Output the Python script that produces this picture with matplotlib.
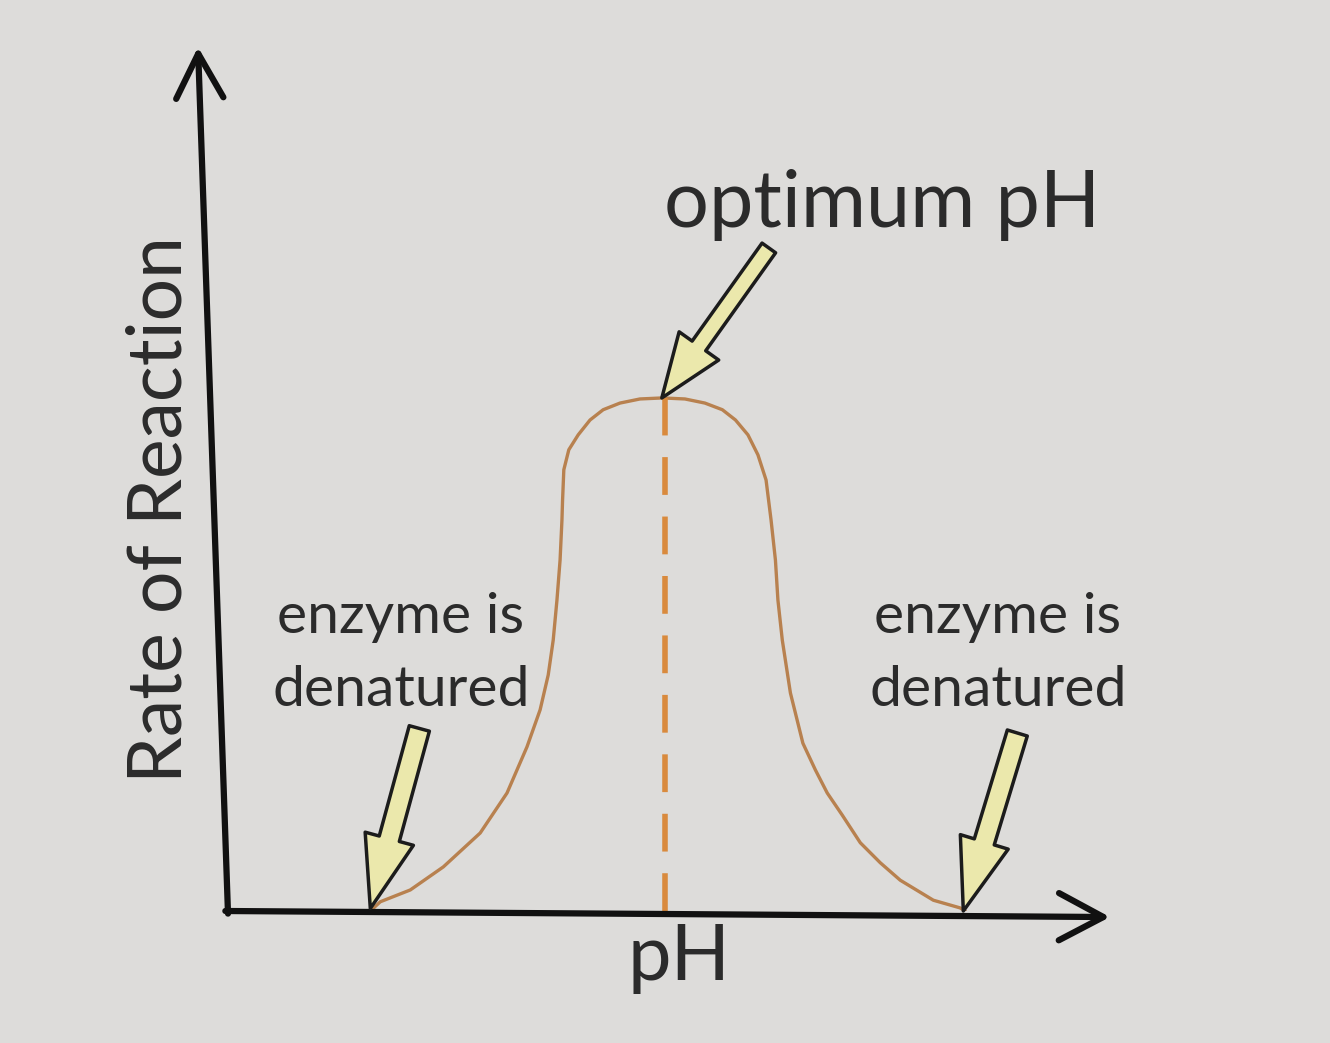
import matplotlib
matplotlib.use("Agg")
import matplotlib.pyplot as plt

# curve (pH vs relative rate, peak = 1)
ph = [2.28, 2.44, 2.92, 3.45, 4.04, 4.47, 4.79, 5.00, 5.13, 5.21, 5.27, 5.32,
      5.35, 5.36, 5.38, 5.46, 5.61, 5.80, 6.01, 6.28, 6.60, 6.96, 7.32, 7.64,
      7.92, 8.13, 8.33, 8.49, 8.62, 8.70, 8.77, 8.81, 8.88, 9.01, 9.21, 9.41,
      9.60, 9.84, 10.13, 10.45, 10.77, 11.30, 11.73, 11.81]
rate = [0.0, 0.018, 0.041, 0.086, 0.152, 0.230, 0.320, 0.392, 0.460, 0.528,
        0.606, 0.684, 0.762, 0.801, 0.860, 0.899, 0.928, 0.957, 0.977, 0.990,
        0.998, 1.0, 0.998, 0.990, 0.977, 0.957, 0.928, 0.889, 0.840, 0.762,
        0.684, 0.606, 0.528, 0.425, 0.327, 0.275, 0.230, 0.187, 0.133, 0.094,
        0.060, 0.021, 0.006, 0.0]
optimum_ph = 7.0
optimum_rate = 1.0
denature_low = 2.28
denature_high = 11.81

plt.rcParams['font.family'] = ['Lato', 'DejaVu Sans']
txt_color = '#2b2b2b'

fig = plt.figure(figsize=(13.3, 10.43), dpi=100, facecolor='#dddcda')
ax = fig.add_axes([228 / 1330, 132 / 1043, 882 / 1330, 864 / 1043])
ax.set_facecolor('none')
ax.set_xlim(0, 14.13)
ax.set_ylim(0, 1.684)
for s in ax.spines.values():
    s.set_visible(False)
ax.set_xticks([])
ax.set_yticks([])

# axes drawn as open arrows
axis_arrow = dict(arrowstyle='->,head_length=1.6,head_width=0.85', color='#111111',
                  lw=4.5, shrinkA=0, shrinkB=0, mutation_scale=20)
ax.annotate('', xy=(1.0, -0.007), xytext=(-0.003, 0), xycoords='axes fraction',
            arrowprops=axis_arrow, annotation_clip=False)
ax.annotate('', xy=(-0.034, 1.0), xytext=(0, -0.003), xycoords='axes fraction',
            arrowprops=axis_arrow, annotation_clip=False)

# the curve and the optimum line
ax.plot(ph, rate, color='#b8814f', lw=2.4, solid_capstyle='round', solid_joinstyle='round')
ax.plot([optimum_ph, optimum_ph], [0, optimum_rate], color='#d98a3d', lw=4,
        dashes=(6.8, 3.9))

# pointer arrows (hollow, pale yellow)
def pointer(tip, tail, tw=0.7, hw=1.8, hl=2.5):
    ax.annotate('', xy=tip, xytext=tail, xycoords='data', textcoords='offset pixels',
                arrowprops=dict(arrowstyle=f'simple,head_length={hl},head_width={hw},tail_width={tw}',
                                fc='#ebe8ac', ec='#1c1c1c', lw=2.5, shrinkA=0, shrinkB=0,
                                mutation_scale=20),
                annotation_clip=False)

pointer((optimum_ph - 0.05, optimum_rate), (107, 150), tw=0.6, hw=1.75, hl=2.3)
pointer((denature_low, 0.005), (49, 180), tw=0.75, hw=1.8, hl=2.6)
pointer((denature_high - 0.03, 0.0), (54, 178), tw=0.75, hw=1.8, hl=2.6)

# labels
fig.text(882 / 1330, 1 - 205 / 1043, 'optimum pH', ha='center', va='center',
         fontsize=57, color=txt_color)
for cx in (401, 998):
    fig.text(cx / 1330, 1 - 654 / 1043, 'enzyme is\ndenatured', ha='center',
             va='center', fontsize=41, color=txt_color, linespacing=1.55)
fig.text(679 / 1330, 1 - 958 / 1043, 'pH', ha='center', va='center',
         fontsize=56, color=txt_color)
fig.text(160 / 1330, 1 - 510 / 1043, 'Rate of Reaction', ha='center', va='center',
         rotation=90, fontsize=54, color=txt_color)

fig.savefig('out.png', dpi=100, facecolor=fig.get_facecolor())
